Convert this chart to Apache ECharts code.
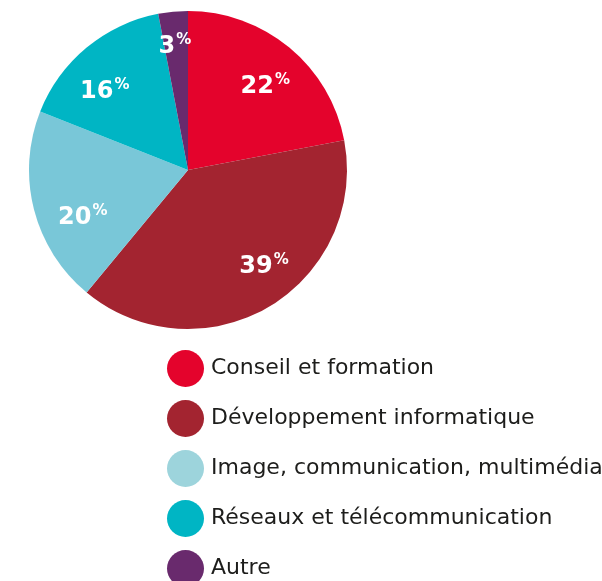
<!DOCTYPE html>
<html>
<head>
<meta charset="utf-8">
<script src="https://cdn.jsdelivr.net/npm/echarts@6/dist/echarts.min.js"></script>
<style>
  html, body { margin: 0; padding: 0; background: #fff; }
  #chart { width: 602px; height: 581px; }
</style>
</head>
<body>
<div id="chart"></div>
<script>
// data
const categories = [
  "Conseil et formation",
  "Développement informatique",
  "Image, communication, multimédia",
  "Réseaux et télécommunication",
  "Autre"
];
const shares = [22, 39, 20, 16, 3];
const sliceColors = ["#e4032c", "#a32430", "#79c7d8", "#00b5c4", "#692a6d"];
const legendColors = ["#e4032c", "#a32430", "#9dd4dc", "#00b5c4", "#692a6d"];
// nudges so the labels sit where the original put them
const labelNudge = [[2, 8], [16, -5], [9, 18], [-8, 13], [-2, -6]];

const myChart = echarts.init(document.getElementById("chart"));

const center = [188, 170];

const option = {
  animation: false,
  legend: {
    orient: "vertical",
    left: 167,
    top: 350,
    height: 300,
    padding: 0,
    icon: "circle",
    itemWidth: 37,
    itemHeight: 37,
    itemGap: 13,
    textStyle: {
      fontFamily: "DejaVu Sans",
      fontSize: 22,
      color: "#1d1d1b",
      padding: [0, 0, 0, 2]
    },
    data: categories.map((name, i) => ({
      name: name,
      itemStyle: { color: legendColors[i] }
    }))
  },
  series: [
    {
      // the pie itself
      type: "pie",
      center: center,
      radius: [0, 159],
      startAngle: 90,
      clockwise: true,
      silent: true,
      label: { show: false },
      labelLine: { show: false },
      itemStyle: { borderWidth: 0 },
      data: categories.map((name, i) => ({
        name: name,
        value: shares[i],
        itemStyle: { color: sliceColors[i] }
      }))
    },
    {
      // transparent ring only used to place the labels further out
      type: "pie",
      center: center,
      radius: [71, 159],
      startAngle: 90,
      clockwise: true,
      silent: true,
      itemStyle: { color: "transparent", borderWidth: 0 },
      labelLine: { show: false },
      label: {
        show: true,
        position: "inside",
        formatter: p => "{n|" + p.value + "}{p|%}",
        rich: {
          n: {
            fontFamily: "DejaVu Sans",
            fontWeight: "bold",
            fontSize: 24,
            color: "#fff",
            lineHeight: 28
          },
          p: {
            fontFamily: "DejaVu Sans",
            fontWeight: "bold",
            fontSize: 15,
            color: "#fff",
            lineHeight: 16,
            verticalAlign: "top",
            padding: [0, 0, 0, 1]
          }
        }
      },
      data: categories.map((name, i) => ({
        name: name,
        value: shares[i],
        label: { offset: labelNudge[i] }
      }))
    }
  ]
};
myChart.setOption(option);
</script>
</body>
</html>
